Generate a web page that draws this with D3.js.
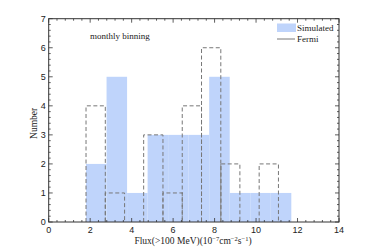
<!DOCTYPE html>
<html><head><meta charset="utf-8">
<script src="https://cdn.jsdelivr.net/npm/d3@7"></script>
<style>body{margin:0;background:#fff}svg{display:block}</style>
</head><body>
<script>
// Data
const simEdges = [1.80, 2.79, 3.78, 4.77, 5.76, 6.75, 7.74, 8.73, 9.72, 10.71, 11.70];
const simCounts = [2, 5, 1, 3, 3, 3, 5, 1, 1, 1];
const fermiEdges = [1.80, 2.73, 3.66, 4.58, 5.51, 6.44, 7.37, 8.30, 9.22, 10.15, 11.08];
const fermiCounts = [4, 1, 0, 3, 1, 4, 6, 2, 0, 2];
const xTicks = [0, 2, 4, 6, 8, 10, 12, 14];
const yTicks = [0, 1, 2, 3, 4, 5, 6, 7];

const W = 374, H = 250;
const m = {l: 48.7, r: 339, t: 18.7, b: 222};
const svg = d3.select("body").append("svg").attr("width", W).attr("height", H);
const x = d3.scaleLinear().domain([0, 14]).range([m.l, m.r]);
const y = d3.scaleLinear().domain([0, 7]).range([m.b, m.t]);

// Simulated bars
svg.append("g").selectAll("rect").data(simCounts).join("rect")
  .attr("x", (d, i) => x(simEdges[i]))
  .attr("width", (d, i) => x(simEdges[i + 1]) - x(simEdges[i]))
  .attr("y", d => y(d))
  .attr("height", d => y(0) - y(d))
  .attr("fill", "#bfd4fb");

// Fermi dashed histogram: each bin as outline
const fg = svg.append("g").attr("fill", "none").attr("stroke", "#777").attr("stroke-width", 1).attr("stroke-dasharray", "4,2.5");
fermiCounts.forEach((c, i) => {
  if (c <= 0) return;
  const x0 = x(fermiEdges[i]), x1 = x(fermiEdges[i + 1]);
  fg.append("path").attr("d", d3.line()([[x0, y(0)], [x0, y(c)], [x1, y(c)], [x1, y(0)]]));
});
// solid Fermi segment at the edge between bins 7 and 8
{
  const i = 7;
  const h = Math.min(fermiCounts[i - 1], fermiCounts[i]);
  svg.append("line").attr("x1", x(fermiEdges[i])).attr("x2", x(fermiEdges[i]))
    .attr("y1", y(0)).attr("y2", y(h)).attr("stroke", "#888").attr("stroke-width", 1);
}

// Axes frame
const ax = svg.append("g").attr("stroke", "#333").attr("fill", "none");
ax.append("rect").attr("x", m.l).attr("y", m.t).attr("width", m.r - m.l).attr("height", m.b - m.t).attr("stroke-width", 1);

// ticks
const xMinor = d3.range(0, 14.001, 0.4).filter(v => !xTicks.some(t => Math.abs(t - v) < 1e-6));
const yMinor = d3.range(0, 7.001, 0.2).filter(v => !yTicks.some(t => Math.abs(t - v) < 1e-6));
function tick(x1, y1, x2, y2) { ax.append("line").attr("x1", x1).attr("y1", y1).attr("x2", x2).attr("y2", y2).attr("stroke-width", 0.8); }
xTicks.forEach(v => { tick(x(v), m.b, x(v), m.b - 4); tick(x(v), m.t, x(v), m.t + 4); });
xMinor.forEach(v => { tick(x(v), m.b, x(v), m.b - 2); tick(x(v), m.t, x(v), m.t + 2); });
yTicks.forEach(v => { tick(m.l, y(v), m.l + 4, y(v)); tick(m.r, y(v), m.r - 4, y(v)); });
yMinor.forEach(v => { tick(m.l, y(v), m.l + 2, y(v)); tick(m.r, y(v), m.r - 2, y(v)); });

// tick labels
const tl = svg.append("g").attr("font-family", "Liberation Sans, Arial, sans-serif").attr("font-size", 9).attr("fill", "#222");
xTicks.forEach(v => tl.append("text").attr("x", x(v)).attr("y", m.b + 11).attr("text-anchor", "middle").text(v));
yTicks.forEach(v => tl.append("text").attr("x", m.l - 3).attr("y", y(v) + 3).attr("text-anchor", "end").text(v));

// labels (serif)
const serif = "Liberation Serif, Times New Roman, serif";
svg.append("text").attr("transform", `translate(37,${(m.t + m.b) / 2 + 3}) rotate(-90)`).attr("text-anchor", "middle")
  .attr("font-family", serif).attr("font-size", 9.5).attr("fill", "#222").text("Number");
const xl = svg.append("text").attr("x", 193).attr("y", 244).attr("text-anchor", "middle")
  .attr("font-family", serif).attr("font-size", 9.5).attr("fill", "#222");
xl.append("tspan").text("Flux(>100 MeV)(10");
xl.append("tspan").attr("dy", -3.5).attr("font-size", 6.5).text("−7");
xl.append("tspan").attr("dy", 3.5).text("cm");
xl.append("tspan").attr("dy", -3.5).attr("font-size", 6.5).text("−2");
xl.append("tspan").attr("dy", 3.5).text("s");
xl.append("tspan").attr("dy", -3.5).attr("font-size", 6.5).text("−1");
xl.append("tspan").attr("dy", 3.5).text(")");

svg.append("text").attr("x", 90).attr("y", 39).attr("font-family", serif).attr("font-size", 9).attr("fill", "#222").text("monthly binning");

// legend
svg.append("rect").attr("x", 277).attr("y", 23.5).attr("width", 19).attr("height", 8.5).attr("fill", "#bfd4fb");
svg.append("text").attr("x", 297).attr("y", 31).attr("font-family", serif).attr("font-size", 9).attr("fill", "#222").text("Simulated");
svg.append("line").attr("x1", 277).attr("x2", 295).attr("y1", 39).attr("y2", 39).attr("stroke", "#555").attr("stroke-width", 0.8);
svg.append("text").attr("x", 297).attr("y", 42).attr("font-family", serif).attr("font-size", 9).attr("fill", "#222").text("Fermi");
</script>
</body></html>
